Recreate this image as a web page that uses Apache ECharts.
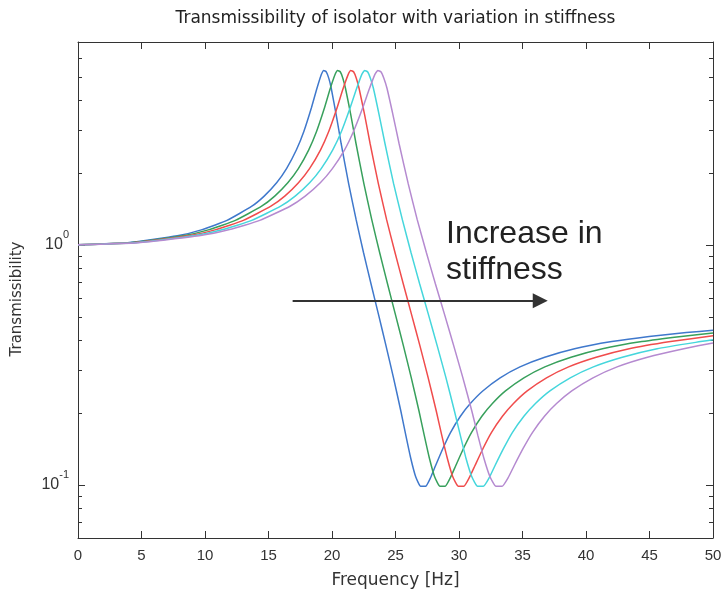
<!DOCTYPE html>
<html>
<head>
<meta charset="utf-8">
<script src="https://cdn.jsdelivr.net/npm/echarts@6/dist/echarts.min.js"></script>
<style>html,body{margin:0;padding:0;background:#fff}#c{width:722px;height:589px}</style>
</head>
<body>
<div id="c"></div>
<script>
// ---- data ----
const seriesNames = ['k1', 'k2', 'k3', 'k4', 'k5'];
const seriesColors = ['#3f78cc', '#38a05c', '#f04c4c', '#45d6dc', '#b58ad0'];

const fBlue = [0, 3.91, 7.82, 9.78, 11.73, 13.69, 14.66, 15.64, 16.42, 17.20, 17.79, 18.38, 18.77, 19.16, 19.35, 19.55, 19.75, 19.94, 20.33, 20.72, 21.31, 21.90, 22.48, 23.07, 23.66, 24.24, 24.83, 25.42, 25.81, 26.20, 26.59, 26.98, 27.37, 27.76, 28.15, 28.74, 29.33, 30.11, 30.89, 31.87, 33.24, 34.80, 36.75, 39.10, 42.03, 44.97, 47.90, 50];
const tBlue = [1, 1.020, 1.090, 1.157, 1.264, 1.448, 1.595, 1.813, 2.077, 2.488, 2.973, 3.722, 4.404, 5.120, 5.330, 5.260, 4.936, 4.491, 3.481, 2.643, 1.798, 1.273, 0.929, 0.688, 0.513, 0.382, 0.281, 0.203, 0.161, 0.129, 0.108, 0.0985, 0.0985, 0.107, 0.120, 0.142, 0.165, 0.193, 0.218, 0.246, 0.279, 0.310, 0.340, 0.369, 0.395, 0.415, 0.431, 0.440];

const fGreen = [0, 4.13, 8.26, 10.33, 12.39, 14.46, 15.49, 16.52, 17.35, 18.17, 18.79, 19.41, 19.82, 20.24, 20.44, 20.65, 20.86, 21.06, 21.48, 21.89, 22.51, 23.13, 23.75, 24.37, 24.99, 25.61, 26.23, 26.85, 27.26, 27.67, 28.08, 28.50, 28.91, 29.32, 29.74, 30.36, 30.98, 31.80, 32.63, 33.66, 35.11, 36.76, 38.82, 41.30, 44.40, 47.50, 50];
const tGreen = [1, 1.020, 1.090, 1.157, 1.264, 1.448, 1.595, 1.813, 2.077, 2.488, 2.973, 3.722, 4.404, 5.120, 5.330, 5.260, 4.936, 4.491, 3.481, 2.643, 1.798, 1.273, 0.929, 0.688, 0.513, 0.382, 0.281, 0.203, 0.161, 0.129, 0.108, 0.0985, 0.0985, 0.107, 0.120, 0.142, 0.165, 0.193, 0.218, 0.246, 0.279, 0.310, 0.340, 0.369, 0.395, 0.415, 0.429];

const fRed = [0, 4.34, 8.68, 10.85, 13.02, 15.19, 16.28, 17.36, 18.23, 19.10, 19.75, 20.40, 20.83, 21.27, 21.48, 21.70, 21.92, 22.13, 22.57, 23.00, 23.65, 24.30, 24.96, 25.61, 26.26, 26.91, 27.56, 28.21, 28.64, 29.08, 29.51, 29.95, 30.38, 30.81, 31.25, 31.90, 32.55, 33.42, 34.29, 35.37, 36.89, 38.63, 40.80, 43.40, 46.66, 50];
const tRed = [1, 1.020, 1.090, 1.157, 1.264, 1.448, 1.595, 1.813, 2.077, 2.488, 2.973, 3.722, 4.404, 5.120, 5.330, 5.260, 4.936, 4.491, 3.481, 2.643, 1.798, 1.273, 0.929, 0.688, 0.513, 0.382, 0.281, 0.203, 0.161, 0.129, 0.108, 0.0985, 0.0985, 0.107, 0.120, 0.142, 0.165, 0.193, 0.218, 0.246, 0.279, 0.310, 0.340, 0.369, 0.395, 0.418];

const fCyan = [0, 4.56, 9.12, 11.40, 13.68, 15.96, 17.10, 18.24, 19.15, 20.06, 20.75, 21.43, 21.89, 22.34, 22.57, 22.80, 23.03, 23.26, 23.71, 24.17, 24.85, 25.54, 26.22, 26.90, 27.59, 28.27, 28.96, 29.64, 30.10, 30.55, 31.01, 31.46, 31.92, 32.38, 32.83, 33.52, 34.20, 35.11, 36.02, 37.16, 38.76, 40.58, 42.86, 45.60, 49.02, 50];
const tCyan = [1, 1.020, 1.090, 1.157, 1.264, 1.448, 1.595, 1.813, 2.077, 2.488, 2.973, 3.722, 4.404, 5.120, 5.330, 5.260, 4.936, 4.491, 3.481, 2.643, 1.798, 1.273, 0.929, 0.688, 0.513, 0.382, 0.281, 0.203, 0.161, 0.129, 0.108, 0.0985, 0.0985, 0.107, 0.120, 0.142, 0.165, 0.193, 0.218, 0.246, 0.279, 0.310, 0.340, 0.369, 0.395, 0.402];

const fPurple = [0, 4.77, 9.54, 11.93, 14.31, 16.70, 17.89, 19.08, 20.03, 20.99, 21.70, 22.42, 22.90, 23.37, 23.61, 23.85, 24.09, 24.33, 24.80, 25.28, 26.00, 26.71, 27.43, 28.14, 28.86, 29.57, 30.29, 31.01, 31.48, 31.96, 32.44, 32.91, 33.39, 33.87, 34.34, 35.06, 35.78, 36.73, 37.68, 38.88, 40.55, 42.45, 44.84, 47.70, 50];
const tPurple = [1, 1.020, 1.090, 1.157, 1.264, 1.448, 1.595, 1.813, 2.077, 2.488, 2.973, 3.722, 4.404, 5.120, 5.330, 5.260, 4.936, 4.491, 3.481, 2.643, 1.798, 1.273, 0.929, 0.688, 0.513, 0.382, 0.281, 0.203, 0.161, 0.129, 0.108, 0.0985, 0.0985, 0.107, 0.120, 0.142, 0.165, 0.193, 0.218, 0.246, 0.279, 0.310, 0.340, 0.369, 0.390];

const xMin = 0, xMax = 50, xStep = 5;
const yMin = 0.06, yMax = 7;
const yMajorTicks = [0.1, 1];
const yMinorTicks = [0.07, 0.08, 0.09, 0.2, 0.3, 0.4, 0.5, 0.6, 0.7, 0.8, 0.9, 2, 3, 4, 5, 6];

const titleText = 'Transmissibility of isolator with variation in stiffness';
const xName = 'Frequency [Hz]';
const yName = 'Transmissibility';
const noteLines = ['Increase in', 'stiffness'];
const arrowFrom = [16.9, 0.584];
const arrowTo = [36.4, 0.584];

// ---- chart ----
const FONT = "'Liberation Sans', Arial, sans-serif";
const FONT2 = "'DejaVu Sans', sans-serif";
const AX = '#333';
const chart = echarts.init(document.getElementById('c'), null, {renderer: 'canvas'});

const freqs = [fBlue, fGreen, fRed, fCyan, fPurple];
const vals = [tBlue, tGreen, tRed, tCyan, tPurple];

const series = freqs.map((f, k) => ({
  name: seriesNames[k],
  type: 'line',
  xAxisIndex: 0,
  yAxisIndex: 0,
  showSymbol: false,
  smooth: 0.15,
  lineStyle: {color: seriesColors[k], width: 1.5},
  itemStyle: {color: seriesColors[k]},
  data: f.map((x, i) => [x, vals[k][i]]),
  z: 2
}));

series[0].markLine = {
  silent: true,
  symbol: ['none', 'triangle'],
  symbolSize: 15,
  label: {show: false},
  lineStyle: {color: '#333', width: 2, type: 'solid'},
  data: [[{coord: arrowFrom}, {coord: arrowTo}]]
};

const supFmt = v => {
  if (Math.abs(v - 1) < 1e-6) return '{b|10}{s|0}';
  if (Math.abs(v - 0.1) < 1e-6) return '{b|10}{s|-1}';
  return '';
};

const baseX = {
  type: 'value', min: xMin, max: xMax, interval: xStep,
  axisLine: {show: true, onZero: false, lineStyle: {color: AX, width: 1}},
  axisTick: {show: true, inside: true, length: 7, lineStyle: {color: AX}},
  splitLine: {show: false}
};
const baseY = {
  type: 'log', logBase: 10, min: yMin, max: yMax,
  axisLine: {show: true, onZero: false, lineStyle: {color: AX, width: 1}},
  axisTick: {show: true, inside: true, length: 7, customValues: yMajorTicks, lineStyle: {color: AX}},
  splitLine: {show: false}
};

const option = {
  animation: false,
  backgroundColor: '#fff',
  grid: {left: 78, right: 9, top: 42, bottom: 51, containLabel: false, outerBoundsMode: 'none'},
  xAxis: [
    Object.assign({}, baseX, {
      position: 'bottom',
      axisLabel: {show: true, margin: 10, color: '#333', fontSize: 15, fontFamily: FONT},
      name: xName, nameLocation: 'middle', nameGap: 34,
      nameTextStyle: {color: '#333', fontSize: 17, fontFamily: FONT2}
    }),
    Object.assign({}, baseX, {position: 'top', axisLabel: {show: false}})
  ],
  yAxis: [
    Object.assign({}, baseY, {
      position: 'left',
      axisLabel: {
        show: true, margin: 9, customValues: yMajorTicks, formatter: supFmt,
        rich: {
          b: {fontSize: 16, lineHeight: 30, color: '#333', fontFamily: FONT},
          s: {fontSize: 11, lineHeight: 13, verticalAlign: 'top', color: '#333', fontFamily: FONT}
        }
      }
    }),
    Object.assign({}, baseY, {position: 'right', axisLabel: {show: false}})
  ],
  series: series
};

chart.setOption(option);

function addGraphics() {
  const x0 = chart.convertToPixel({xAxisIndex: 0}, xMin);
  const x1 = chart.convertToPixel({xAxisIndex: 0}, xMax);
  const g = [];
  yMinorTicks.forEach(v => {
    const y = Math.round(chart.convertToPixel({yAxisIndex: 0}, v)) + 0.5;
    g.push({type: 'line', silent: true, shape: {x1: x0, y1: y, x2: x0 + 4, y2: y}, style: {stroke: AX, lineWidth: 1}});
    g.push({type: 'line', silent: true, shape: {x1: x1 - 4, y1: y, x2: x1, y2: y}, style: {stroke: AX, lineWidth: 1}});
  });
  g.push({type: 'text', silent: true, x: (x0 + x1) / 2, y: 19,
    style: {text: titleText, align: 'center', verticalAlign: 'middle', font: '17px ' + FONT2, fill: '#222'}});
  g.push({type: 'text', silent: true, x: 17, y: 299, rotation: Math.PI / 2,
    style: {text: yName, align: 'center', verticalAlign: 'middle', font: '15px ' + FONT2, fill: '#333'}});
  g.push({type: 'text', silent: true, x: 446, y: 234,
    style: {text: noteLines[0], align: 'left', verticalAlign: 'middle', font: '32px ' + FONT, fill: '#222'}});
  g.push({type: 'text', silent: true, x: 446, y: 270,
    style: {text: noteLines[1], align: 'left', verticalAlign: 'middle', font: '32px ' + FONT, fill: '#222'}});
  chart.setOption({graphic: g});
}
addGraphics();
</script>
</body>
</html>
